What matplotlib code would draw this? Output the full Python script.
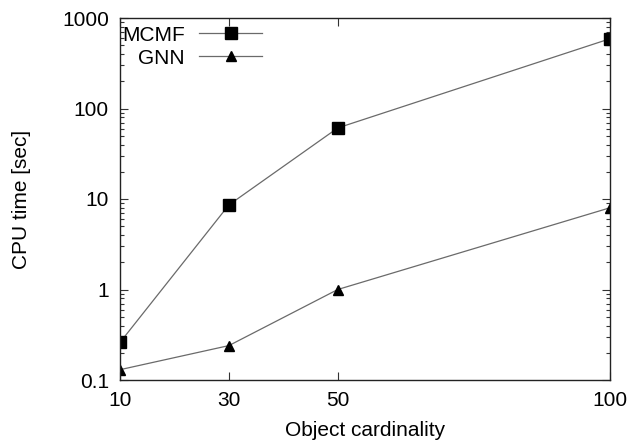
import matplotlib
matplotlib.use("Agg")
import matplotlib.pyplot as plt
from matplotlib import ticker

plt.rcParams['font.family'] = ['Liberation Sans', 'DejaVu Sans']

cardinality = [10, 30, 50, 100]
mcmf_time = [0.26, 8.6, 61, 590]
gnn_time = [0.13, 0.24, 1.0, 8.0]
x_ticks = [10, 30, 50, 100]
y_ticks = [0.1, 1, 10, 100, 1000]
y_labels = ["0.1", "1", "10", "100", "1000"]

fig = plt.figure(figsize=(6.33, 4.47), dpi=100)
ax = fig.add_axes([120 / 633, 1 - 380 / 447, 490 / 633, 362 / 447])

line_col = "#6a6a6a"
ax.plot(cardinality, mcmf_time, color=line_col, lw=0.9, marker="s",
        ms=8, mfc="black", mec="black", label="MCMF")
ax.plot(cardinality, gnn_time, color=line_col, lw=0.9, marker="^",
        ms=7.5, mfc="black", mec="black", label="GNN")

ax.set_yscale("log")
ax.set_xlim(10, 100)
ax.set_ylim(0.1, 1000)
ax.set_xticks(x_ticks)
ax.set_xticklabels([str(v) for v in x_ticks])
ax.xaxis.set_minor_locator(ticker.NullLocator())
ax.set_yticks(y_ticks)
ax.set_yticklabels(y_labels)
ax.yaxis.set_minor_locator(ticker.LogLocator(base=10, subs=range(2, 10)))
ax.yaxis.set_minor_formatter(ticker.NullFormatter())

ax.tick_params(which="both", direction="in", top=True, right=True,
               labelsize=15, color="#333333")
ax.tick_params(which="major", length=5.5, width=0.8, pad=8)
ax.tick_params(which="minor", length=3, width=0.8)
for s in ax.spines.values():
    s.set_linewidth(1.0)
    s.set_color("#222222")

ax.set_xlabel("Object cardinality", fontsize=15, labelpad=8)
ax.set_ylabel("CPU time [sec]", fontsize=15, labelpad=22)

ax.legend(loc="upper left", bbox_to_anchor=(0.0, 0.985), frameon=False,
          markerfirst=False, fontsize=15, handlelength=3.0,
          handletextpad=0.7, labelspacing=0.2, borderpad=0.1,
          borderaxespad=0.0)

fig.savefig("out.png", dpi=100)
